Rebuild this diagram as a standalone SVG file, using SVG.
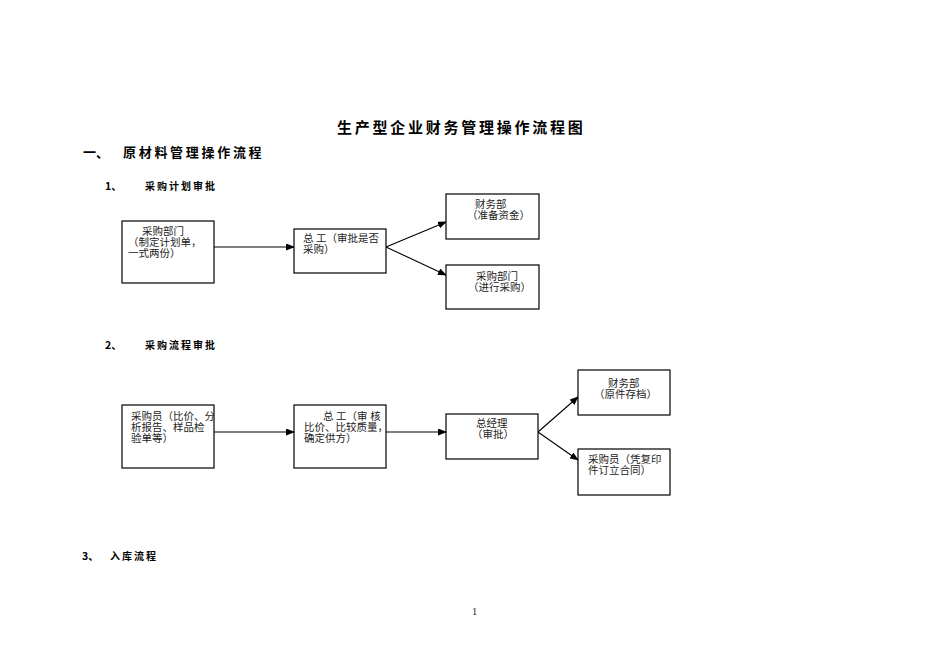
<svg xmlns="http://www.w3.org/2000/svg" width="950" height="672" viewBox="0 0 950 672">
<style>
.box{fill:#fff;stroke:#000;stroke-width:1.2}
.t{font-family:"Liberation Serif","Noto Sans CJK SC",serif;font-size:10.5px;fill:#222}
.h{font-family:"Noto Sans CJK SC",sans-serif;font-weight:bold;fill:#000}
.c{stroke:#000;stroke-width:1.1;fill:none;marker-end:url(#ah)}
</style>
<defs>
<marker id="ah" markerWidth="9" markerHeight="7" refX="8" refY="3.5" orient="auto" markerUnits="userSpaceOnUse">
<path d="M0,0 L9,3.5 L0,7 z" fill="#000"/>
</marker>
</defs>
<rect width="950" height="672" fill="#fff"/>
<g id="headings">
<text class="h" x="337" y="133" font-size="15" letter-spacing="2.75">生产型企业财务管理操作流程图</text>
<text class="h" x="83" y="157" font-size="13">一、</text>
<text class="h" x="123" y="157" font-size="13" letter-spacing="2.7">原材料管理操作流程</text>
<text class="h" x="105" y="190" font-size="10.5" font-family="Liberation Sans, sans-serif">1、</text>
<text class="h" x="145" y="190" font-size="10" letter-spacing="2">采购计划审批</text>
<text class="h" x="105" y="349" font-size="10.5" font-family="Liberation Sans, sans-serif">2、</text>
<text class="h" x="145" y="349" font-size="10" letter-spacing="2">采购流程审批</text>
<text class="h" x="82" y="560" font-size="10.5" font-family="Liberation Sans, sans-serif">3、</text>
<text class="h" x="110" y="560" font-size="10" letter-spacing="2">入库流程</text>
<text class="t" x="472" y="615" font-size="10">1</text>
</g>
<g id="connectors">
<line class="c" x1="214" y1="247" x2="294" y2="247"/>
<line class="c" x1="386" y1="247" x2="446" y2="222"/>
<line class="c" x1="386" y1="247" x2="446" y2="275"/>
<line class="c" x1="214" y1="432" x2="294" y2="432"/>
<line class="c" x1="386" y1="432" x2="446" y2="432"/>
<line class="c" x1="538" y1="432" x2="578" y2="397"/>
<line class="c" x1="538" y1="432" x2="578" y2="460"/>
</g>
<g id="n1">
<rect class="box" x="122" y="221" width="92" height="62"/>
<text class="t" x="142" y="235">采购部门</text>
<text class="t" x="128" y="246">（制定计划单，</text>
<text class="t" x="128" y="257">一式两份）</text>
</g>
<g id="n2">
<rect class="box" x="294" y="229" width="92" height="44"/>
<text class="t" x="303" y="242">总 工（审批是否</text>
<text class="t" x="303" y="253">采购）</text>
</g>
<g id="n3">
<rect class="box" x="446" y="194" width="93" height="45"/>
<text class="t" x="475" y="208">财务部</text>
<text class="t" x="467" y="219">（准备资金）</text>
</g>
<g id="n4">
<rect class="box" x="446" y="265" width="93" height="44"/>
<text class="t" x="476" y="280">采购部门</text>
<text class="t" x="468" y="291">（进行采购）</text>
</g>
<g id="n5">
<rect class="box" x="122" y="405" width="92" height="63"/>
<text class="t" x="131" y="420">采购员（比价、分</text>
<text class="t" x="131" y="431">析报告、样品检</text>
<text class="t" x="131" y="442">验单等）</text>
</g>
<g id="n6">
<rect class="box" x="294" y="405" width="92" height="63"/>
<text class="t" x="323" y="420">总 工（审 核</text>
<text class="t" x="304" y="431">比价、比较质量，</text>
<text class="t" x="304" y="442">确定供方）</text>
</g>
<g id="n7">
<rect class="box" x="446" y="414" width="92" height="45"/>
<text class="t" x="476" y="427">总经理</text>
<text class="t" x="472" y="438">（审批）</text>
</g>
<g id="n8">
<rect class="box" x="578" y="370" width="92" height="45"/>
<text class="t" x="608" y="387">财务部</text>
<text class="t" x="594" y="398">（原件存档）</text>
</g>
<g id="n9">
<rect class="box" x="578" y="449" width="92" height="46"/>
<text class="t" x="588" y="463">采购员（凭复印</text>
<text class="t" x="588" y="474">件订立合同）</text>
</g>
</svg>
